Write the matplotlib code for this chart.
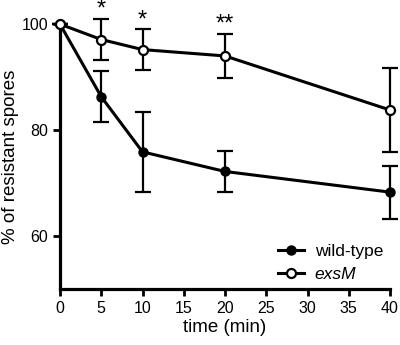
import matplotlib.pyplot as plt
from matplotlib.lines import Line2D

plt.rcParams["font.family"] = ["Liberation Sans", "DejaVu Sans"]

time_min = [0, 5, 10, 20, 40]
wt_mean = [100, 86.3, 75.9, 72.2, 68.3]
wt_err = [0, 4.8, 7.5, 3.8, 5.0]
exsm_mean = [100, 97.1, 95.2, 94.0, 83.8]
exsm_err = [0, 3.8, 3.8, 4.2, 8.0]
stars_x = [5, 10, 20]
stars_text = ["*", "*", "**"]

fig = plt.figure(figsize=(4, 3.45), dpi=100)
ax = fig.add_axes([0.15, 0.162, 0.825, 0.768])

style = dict(color="black", marker="o", markersize=6.5, linewidth=2.2,
             elinewidth=1.6, capsize=5.5, capthick=1.6, clip_on=False, zorder=3)
ax.errorbar(time_min, wt_mean, yerr=wt_err, **style)
ax.errorbar(time_min, exsm_mean, yerr=exsm_err, markerfacecolor="white",
            markeredgewidth=1.6, **style)

for x, s in zip(stars_x, stars_text):
    i = time_min.index(x)
    ax.text(x, exsm_mean[i] + exsm_err[i] - 0.3, s, ha="center", va="bottom",
            fontsize=17, clip_on=False)

ax.set_xlim(0, 40)
ax.set_ylim(50, 100)
ax.set_xticks(range(0, 41, 5))
ax.set_yticks([60, 80, 100])
for side in ["top", "right"]:
    ax.spines[side].set_visible(False)
for side in ["left", "bottom"]:
    ax.spines[side].set_linewidth(2.3)
ax.tick_params(width=2, length=5, labelsize=11.5)
ax.set_xlabel("time (min)", fontsize=13.5, labelpad=2)
ax.set_ylabel("% of resistant spores", fontsize=13.5, labelpad=2)

handles = [
    Line2D([], [], color="black", marker="o", markersize=6.5, linewidth=2.2),
    Line2D([], [], color="black", marker="o", markersize=6.5, linewidth=2.2,
           markerfacecolor="white", markeredgewidth=1.6),
]
leg = ax.legend(handles, ["wild-type", "exsM"], loc="lower right",
                bbox_to_anchor=(1.0, 0.0), frameon=False, fontsize=12.5,
                handlelength=1.5, handletextpad=0.6, borderaxespad=0.0,
                labelspacing=0.45)
leg.get_texts()[1].set_fontstyle("italic")

fig.savefig("out.png", dpi=100)
